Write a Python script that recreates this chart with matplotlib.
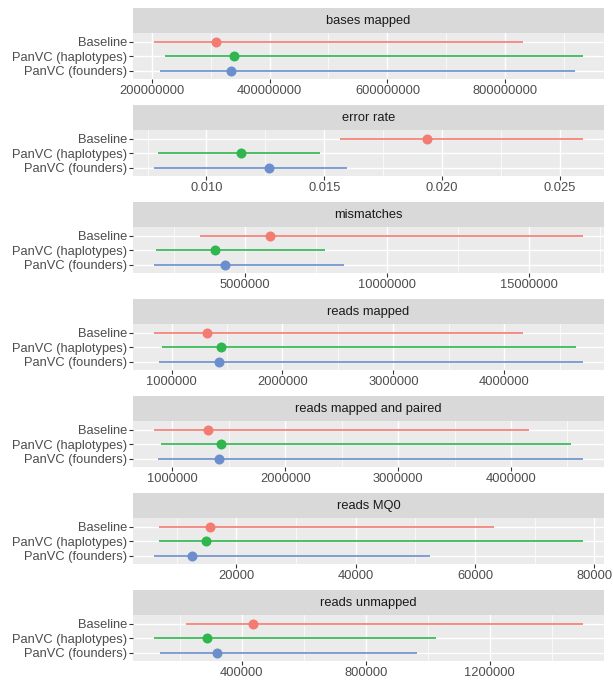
import numpy as np
import matplotlib.pyplot as plt
from matplotlib.ticker import FixedLocator, FuncFormatter

plt.rcParams['font.family'] = ['Liberation Sans', 'DejaVu Sans']

methods = ["Baseline", "PanVC (haplotypes)", "PanVC (founders)"]
colors = ["#F37B72", "#2FB64E", "#6A8FCC"]

metrics = ["bases mapped", "error rate", "mismatches", "reads mapped",
           "reads mapped and paired", "reads MQ0", "reads unmapped"]

# per metric: min, max and median for Baseline / haplotypes / founders
bases_mapped_min = [204.7e6, 222e6, 215e6]
bases_mapped_max = [830e6, 931e6, 918e6]
bases_mapped_med = [310e6, 339e6, 335e6]

error_rate_min = [0.01568, 0.00796, 0.00779]
error_rate_max = [0.02596, 0.01482, 0.01598]
error_rate_med = [0.01935, 0.01145, 0.01267]

mismatches_min = [3.43e6, 1.86e6, 1.82e6]
mismatches_max = [16.9e6, 7.83e6, 8.49e6]
mismatches_med = [5.88e6, 3.94e6, 4.32e6]

reads_mapped_min = [0.845e6, 0.912e6, 0.89e6]
reads_mapped_max = [4.17e6, 4.643e6, 4.706e6]
reads_mapped_med = [1.318e6, 1.445e6, 1.424e6]

paired_min = [0.84e6, 0.896e6, 0.872e6]
paired_max = [4.156e6, 4.53e6, 4.635e6]
paired_med = [1.316e6, 1.427e6, 1.41e6]

mq0_min = [7080, 7080, 6290]
mq0_max = [63150, 78030, 52520]
mq0_med = [15540, 14950, 12660]

unmapped_min = [219e3, 118e3, 136e3]
unmapped_max = [1500e3, 1027e3, 965e3]
unmapped_med = [435e3, 288e3, 319e3]

mins = [bases_mapped_min, error_rate_min, mismatches_min, reads_mapped_min,
        paired_min, mq0_min, unmapped_min]
maxs = [bases_mapped_max, error_rate_max, mismatches_max, reads_mapped_max,
        paired_max, mq0_max, unmapped_max]
meds = [bases_mapped_med, error_rate_med, mismatches_med, reads_mapped_med,
        paired_med, mq0_med, unmapped_med]

major_ticks = [
    [200e6, 400e6, 600e6, 800e6],
    [0.010, 0.015, 0.020, 0.025],
    [5e6, 10e6, 15e6],
    [1e6, 2e6, 3e6, 4e6],
    [1e6, 2e6, 3e6, 4e6],
    [20000, 40000, 60000, 80000],
    [400e3, 800e3, 1200e3],
]
minor_ticks = [
    [300e6, 500e6, 700e6, 900e6],
    [0.0075, 0.0125, 0.0175, 0.0225],
    [2.5e6, 7.5e6, 12.5e6, 17.5e6],
    [1.5e6, 2.5e6, 3.5e6, 4.5e6],
    [1.5e6, 2.5e6, 3.5e6, 4.5e6],
    [10000, 30000, 50000, 70000],
    [200e3, 600e3, 1000e3, 1400e3],
]

W, H = 613, 680
fig = plt.figure(figsize=(W / 100, H / 100), dpi=100)

left, right = 133, 604
pitch = 97.0
fs = 9.3

for k, name in enumerate(metrics):
    strip_top = 8 + pitch * k
    strip_bot = 32.9 + pitch * k
    panel_bot = 79.2 + pitch * k

    # facet strip
    sax = fig.add_axes([left / W, 1 - strip_bot / H, (right - left) / W,
                        (strip_bot - strip_top) / H])
    sax.set_facecolor("#D9D9D9")
    sax.set_xticks([])
    sax.set_yticks([])
    for s in sax.spines.values():
        s.set_visible(False)
    sax.text(0.5, 0.47, name, ha="center", va="center", fontsize=fs,
             color="#1A1A1A", transform=sax.transAxes)

    ax = fig.add_axes([left / W, 1 - panel_bot / H, (right - left) / W,
                       (panel_bot - strip_bot) / H])
    ax.set_facecolor("#EBEBEB")
    for s in ax.spines.values():
        s.set_visible(False)

    lo = min(mins[k])
    hi = max(maxs[k])
    pad = (hi - lo) * 0.05
    ax.set_xlim(lo - pad, hi + pad)
    ax.set_ylim(2.6, -0.6)

    ax.xaxis.set_major_locator(FixedLocator(major_ticks[k]))
    ax.xaxis.set_minor_locator(FixedLocator(minor_ticks[k]))
    if name == "error rate":
        ax.xaxis.set_major_formatter(FuncFormatter(lambda v, p: f"{v:.3f}"))
    else:
        ax.xaxis.set_major_formatter(FuncFormatter(lambda v, p: f"{v:.0f}"))
    ax.set_yticks(np.arange(len(methods)))
    ax.set_yticklabels(methods)

    ax.grid(which="major", color="white", lw=1.0)
    ax.grid(which="minor", axis="x", color="white", lw=0.5)
    ax.set_axisbelow(True)
    ax.tick_params(which="major", length=2.7, width=0.8, color="#333333",
                   labelsize=fs, labelcolor="#4D4D4D", pad=1.5)
    ax.tick_params(which="minor", length=0)

    for i in range(len(methods)):
        ax.hlines(i, mins[k][i], maxs[k][i], color=colors[i], lw=1.2, zorder=3)
        ax.plot(meds[k][i], i, "o", color=colors[i], ms=7.2, mew=0, zorder=4)

fig.savefig("out.png", dpi=100)
